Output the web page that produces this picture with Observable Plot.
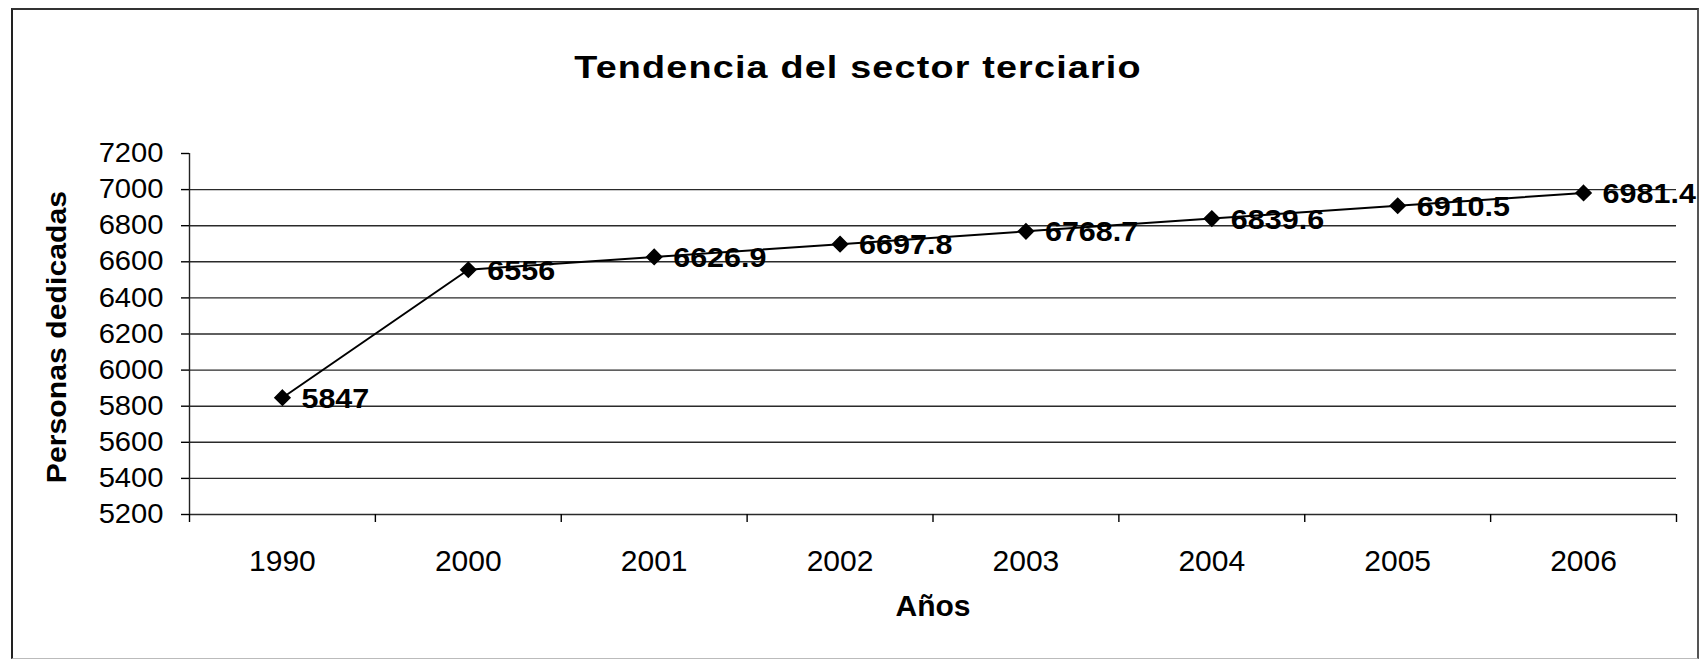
<!DOCTYPE html>
<html>
<head>
<meta charset="utf-8">
<script src="https://cdn.jsdelivr.net/npm/d3@7"></script>
<script src="https://cdn.jsdelivr.net/npm/@observablehq/plot@0.6"></script>
<style>
  html, body { margin: 0; padding: 0; background: #fff; }
  #wrap { position: relative; width: 1700px; height: 664px; overflow: hidden; background: #fff; }
  #box {
    position: absolute; left: 11px; top: 8px; width: 1684px; height: 648px;
    border-left: 2px solid #222; border-top: 2px solid #333;
    border-right: 2px solid #555; border-bottom: 1px solid #bbb;
    pointer-events: none;
  }
  #chart { position: absolute; left: 0; top: 0; }
</style>
</head>
<body>
<div id="wrap">
  <div id="chart"></div>
  <div id="box"></div>
</div>
<script>
// Personas dedicadas al sector terciario, por año
const years = ["1990", "2000", "2001", "2002", "2003", "2004", "2005", "2006"];
const personas = [5847, 6556, 6626.9, 6697.8, 6768.7, 6839.6, 6910.5, 6981.4];
const yTicks = [5200, 5400, 5600, 5800, 6000, 6200, 6400, 6600, 6800, 7000, 7200];
const gridValues = [5200, 5400, 5600, 5800, 6000, 6200, 6400, 6600, 6800, 7000];

const titleText = "Tendencia del sector terciario";
const yLabel = "Personas dedicadas";
const xLabel = "Años";

// Each year occupies one category slot; points sit in the middle of their slot
const data = years.map((year, i) => ({
  year,
  pos: i + 0.5,
  value: personas[i],
  label: String(personas[i])
}));

const font = "'Liberation Sans', Arial, Helvetica, sans-serif";

const chart = Plot.plot({
  width: 1700,
  height: 664,
  marginLeft: 189,
  marginRight: 24,
  marginTop: 153,
  marginBottom: 150,
  style: { fontFamily: font, fontSize: "28px", color: "#000", background: "transparent", overflow: "visible" },
  x: { type: "linear", domain: [0, years.length] },
  y: { domain: [5200, 7200] },
  marks: [
    // horizontal gridlines
    Plot.ruleY(gridValues, { stroke: "#2a2a2a", strokeWidth: 1.4 }),
    // vertical value axis line
    Plot.ruleX([0], { stroke: "#222", strokeWidth: 1.4 }),
    Plot.axisY({
      ticks: yTicks, tickSize: 8, tickPadding: 18, tickFormat: d3.format("d"),
      fontSize: 27, label: null, strokeWidth: 1.4
    }),
    // category boundary ticks
    Plot.axisX({
      ticks: d3.range(0, years.length + 1), tickSize: 8, tickFormat: () => "",
      label: null, strokeWidth: 1.4
    }),
    // category labels centred in each slot
    Plot.axisX({
      ticks: data.map(d => d.pos), tickSize: 0, tickPadding: 35,
      tickFormat: v => years[Math.floor(v)], fontSize: 30, label: null
    }),
    Plot.line(data, { x: "pos", y: "value", stroke: "#000", strokeWidth: 2 }),
    Plot.dot(data, { x: "pos", y: "value", symbol: "diamond2", r: 6.8, fill: "#000", stroke: "#000" }),
    Plot.text(data, {
      x: "pos", y: "value", text: "label", textAnchor: "start", dx: 19, dy: 1,
      fontSize: 28, fontWeight: "bold", fill: "#000"
    }),
    // chart title
    Plot.text([titleText], {
      frameAnchor: "top", dx: -75, dy: -98, fontSize: 32, fontWeight: "bold", fill: "#000"
    }),
    // value axis title
    Plot.text([yLabel], {
      frameAnchor: "left", textAnchor: "middle", dx: -132, dy: 3, rotate: -90,
      fontSize: 27, fontWeight: "bold", fill: "#000"
    }),
    // category axis title
    Plot.text([xLabel], {
      frameAnchor: "bottom", dy: 101, fontSize: 30, fontWeight: "bold", fill: "#000"
    })
  ]
});

// Widen the lettering along the reading direction, keeping each anchor fixed
const yTickSet = new Set(yTicks.map(String));
const labelSet = new Set(data.map(d => d.label));
function widthFactor(s) {
  if (s === titleText) return 1.18;
  if (s === yLabel) return 1.12;
  if (labelSet.has(s)) return 1.09;
  if (yTickSet.has(s)) return 1.08;
  return 1;
}
chart.querySelectorAll("text").forEach(el => {
  const k = widthFactor(el.textContent);
  if (k === 1) return;
  const t = el.getAttribute("transform");
  if (t) {
    el.setAttribute("transform", `${t} scale(${k},1)`);
  } else {
    const x = +(el.getAttribute("x") || 0);
    el.setAttribute("transform", `translate(${x},0) scale(${k},1) translate(${-x},0)`);
  }
});
chart.querySelectorAll("text").forEach(el => {
  if (el.textContent === titleText) el.style.letterSpacing = "1px";
});

document.getElementById("chart").appendChild(chart);
</script>
</body>
</html>
